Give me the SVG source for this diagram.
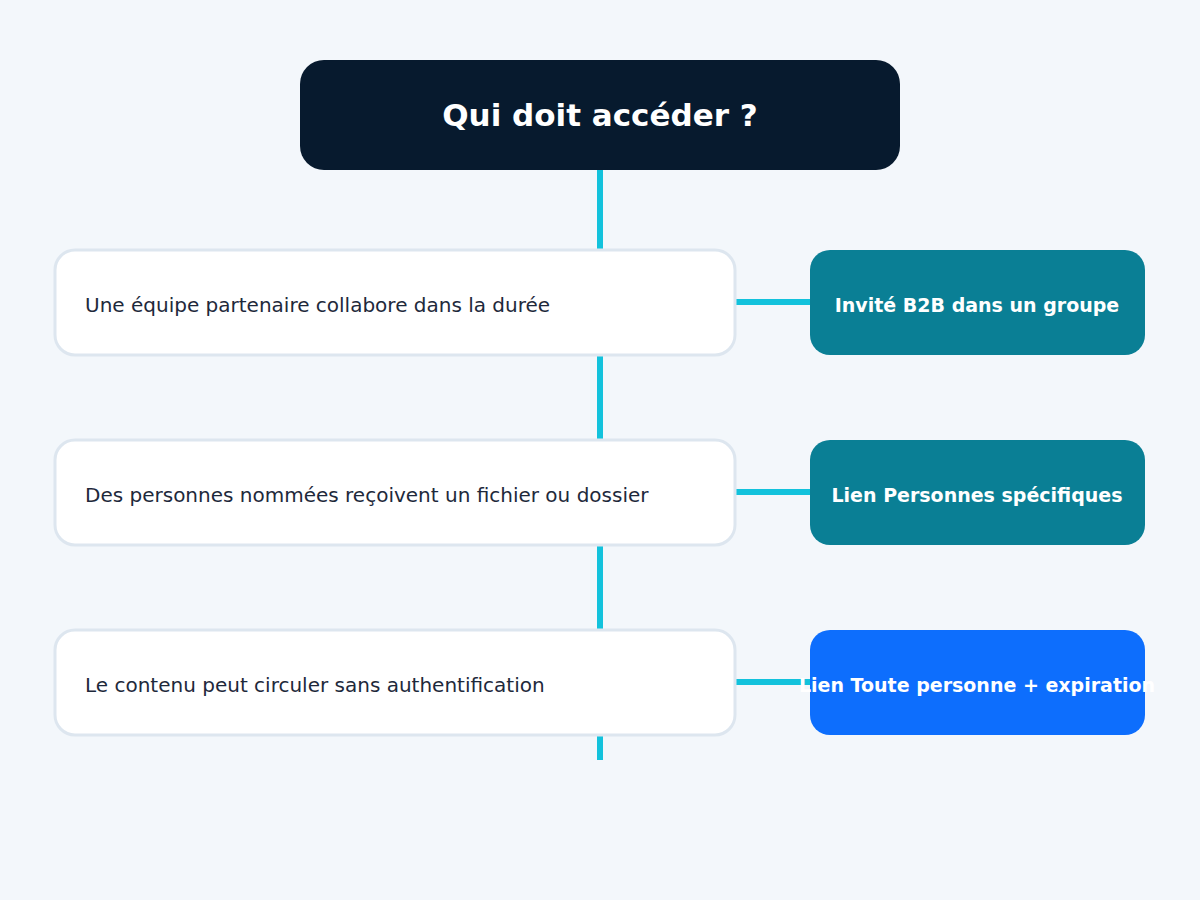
<svg xmlns="http://www.w3.org/2000/svg" width="1200" height="900" viewBox="0 0 1200 900">
<style>
.c{stroke:#12c2dc;stroke-width:6;fill:none}
.q{fill:#fff;stroke:#dde6ef;stroke-width:3}
.qt{font-family:"DejaVu Sans",sans-serif;font-size:20px;fill:#1e293b}
.at{font-family:"DejaVu Sans",sans-serif;font-size:19px;font-weight:bold;fill:#fff;text-anchor:middle}
</style>
<rect width="1200" height="900" fill="#f3f7fb"/>
<g id="connectors">
<line class="c" x1="600" y1="170" x2="600" y2="760"/>
<line class="c" x1="735" y1="302" x2="810" y2="302"/>
<line class="c" x1="735" y1="492" x2="810" y2="492"/>
<line class="c" x1="735" y1="682" x2="810" y2="682"/>
</g>
<g id="title"><rect x="300" y="60" width="600" height="110" rx="24" fill="#071a2e"/>
<text x="600" y="126" text-anchor="middle" font-family="DejaVu Sans,sans-serif" font-size="31" font-weight="bold" fill="#fff">Qui doit accéder ?</text></g>
<g id="q1"><rect class="q" x="55" y="250" width="680" height="105" rx="20"/><text class="qt" x="85" y="312">Une équipe partenaire collabore dans la durée</text></g>
<g id="q2"><rect class="q" x="55" y="440" width="680" height="105" rx="20"/><text class="qt" x="85" y="502">Des personnes nommées reçoivent un fichier ou dossier</text></g>
<g id="q3"><rect class="q" x="55" y="630" width="680" height="105" rx="20"/><text class="qt" x="85" y="692">Le contenu peut circuler sans authentification</text></g>
<g id="a1"><rect x="810" y="250" width="335" height="105" rx="20" fill="#0a7f95"/><text class="at" x="977" y="312">Invité B2B dans un groupe</text></g>
<g id="a2"><rect x="810" y="440" width="335" height="105" rx="20" fill="#0a7f95"/><text class="at" x="977" y="502">Lien Personnes spécifiques</text></g>
<g id="a3"><rect x="810" y="630" width="335" height="105" rx="20" fill="#0d6efd"/><text class="at" x="977" y="692">Lien Toute personne + expiration</text></g>
</svg>
